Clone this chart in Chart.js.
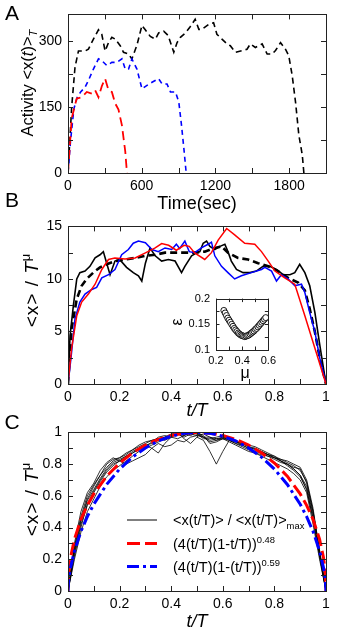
<!DOCTYPE html>
<html><head><meta charset="utf-8">
<script src="https://cdn.jsdelivr.net/npm/chart.js@4.4.1/dist/chart.umd.min.js"></script>
<style>
body{margin:0;background:#fff;}
#wrap{position:relative;width:341px;height:643px;overflow:hidden;font-family:"Liberation Sans",Arial,sans-serif;color:#000;background:#fff;}
canvas{position:absolute;}
.t{position:absolute;white-space:nowrap;line-height:1;}
.rot{transform:translate(-50%,-50%) rotate(-90deg);}
.ctr{transform:translate(-50%,-50%);}
.lg{transform:translateY(-50%);}
sub,sup{font-size:68%;line-height:0;}
.lg sub,.lg sup{font-size:65%;}
svg{position:absolute;left:0;top:0;}
</style></head><body>
<div id="wrap">
<canvas id="cA" width="341" height="200" style="left:0;top:0"></canvas>
<canvas id="cB" width="341" height="200" style="left:0;top:212px"></canvas>
<canvas id="cC" width="341" height="200" style="left:0;top:418px"></canvas>
<canvas id="cI" width="110" height="98" style="left:170px;top:286px"></canvas>

<div class="t ctr" style="left:12px;top:12px;font-size:21px">A</div>
<div class="t ctr" style="left:12px;top:199px;font-size:21px">B</div>
<div class="t ctr" style="left:12px;top:421px;font-size:21px">C</div>

<div class="t rot" style="left:27px;top:83px;font-size:16.5px">Activity &lt;x(<i>t</i>)&gt;<sub><i>T</i></sub></div>
<div class="t ctr" style="left:197px;top:203px;font-size:18px">Time(sec)</div>

<div class="t rot" style="left:31px;top:290px;font-size:19px;letter-spacing:1px">&lt;x&gt; / <i>T</i><sup>μ</sup></div>
<div class="t ctr" style="left:197px;top:410px;font-size:18px"><i>t/T</i></div>
<div class="t rot" style="left:177px;top:322px;font-size:16px">ε</div>
<div class="t ctr" style="left:245px;top:373px;font-size:16px">μ</div>

<div class="t rot" style="left:31px;top:499px;font-size:19px;letter-spacing:1px">&lt;x&gt; / <i>T</i><sup>μ</sup></div>
<div class="t ctr" style="left:197px;top:621px;font-size:18px"><i>t/T</i></div>

<svg width="341" height="643">
<line x1="127" y1="520" x2="157" y2="520" stroke="#000" stroke-width="1"/>
<line x1="127" y1="543.5" x2="157" y2="543.5" stroke="#ff0000" stroke-width="3" stroke-dasharray="13,5"/>
<line x1="127" y1="566.5" x2="157" y2="566.5" stroke="#0000ff" stroke-width="3" stroke-dasharray="12,4,3,4"/>
</svg>
<div class="t lg" style="left:173px;top:520px;font-size:14.5px">&lt;x(t/T)&gt; / &lt;x(t/T)&gt;<sub>max</sub></div>
<div class="t lg" style="left:173px;top:544px;font-size:14.5px">(4(t/T)(1-t/T))<sup>0.48</sup></div>
<div class="t lg" style="left:173px;top:567px;font-size:14.5px">(4(t/T)(1-(t/T))<sup>0.59</sup></div>
</div>
<script>
// ---------- Panel A data ----------
const tBlack = [0,30,57,85,139,166,207,248,275,302,330,357,384,425,452,493,520,561,602,629,670,711,738,779,815,861,888,915,956,990,1035,1065,1090,1144,1185,1212,1253,1294,1321,1362,1417,1457,1484,1525,1580,1621,1662,1689,1730,1770,1797,1825,1852,1879,1907,1920];
const aBlack = [0,150,240,277,277,281,304,325,315,277,296,308,304,289,274,270,259,290,335,325,310,304,318,322,312,274,296,308,318,330,349,326,326,337,341,315,304,293,289,274,278,281,293,285,293,270,270,278,296,281,266,221,161,86,41,0];
const tBlue = [0,20,48,75,103,139,166,207,248,275,316,357,398,439,466,493,520,561,602,643,684,738,766,806,834,875,902,924,943,962];
const aBlue = [0,71,146,172,184,195,210,236,259,255,244,251,251,259,236,236,259,236,191,199,206,214,202,202,184,184,161,108,56,0];
const tRed = [0,30,57,71,112,153,194,221,248,275,302,330,357,384,411,439,466,480];
const aRed = [0,124,154,169,172,184,180,188,172,197,214,188,184,158,144,108,49,0];

// ---------- Panel B data ----------
const uRedB = [0,0.014,0.034,0.053,0.079,0.105,0.131,0.157,0.182,0.221,0.26,0.3,0.338,0.363,0.39,0.42,0.45,0.47,0.491,0.53,0.556,0.582,0.615,0.646,0.685,0.724,0.75,0.776,0.802,0.84,0.879,0.918,0.957,1];
const vRedB = [0,3.4,6.5,7.8,8.56,9.5,10.9,11.85,12.0,11.9,12.0,12.48,12.95,13.36,13.2,12.73,13.2,13.1,12.48,11.85,12.5,13.7,14.8,14.2,13.4,13.3,12.6,11.7,10.75,10.1,9.5,6.5,3.4,0];
const uBlueB = [0,0.0116,0.027,0.046,0.066,0.092,0.111,0.131,0.157,0.182,0.208,0.234,0.253,0.273,0.3,0.325,0.35,0.376,0.402,0.42,0.433,0.453,0.47,0.491,0.517,0.543,0.556,0.569,0.595,0.62,0.646,0.672,0.711,0.75,0.763,0.789,0.808,0.827,0.853,0.879,0.905,0.918,0.937,0.957,0.976,1];
const vBlueB = [0,2.45,6.2,7.8,8.56,9.0,9.2,10.1,10.4,10.9,12.3,12.8,13.4,13.6,13.45,12.8,12.6,12.95,12.8,13.3,12.9,13.6,12.6,12.5,12.95,13.3,13.5,12.2,11.2,10.6,10.0,10.3,10.6,10.9,11.1,10.75,9.8,10.4,10.0,9.35,9.5,8.7,6.8,4.95,2.45,0];
const uBlackB = [0,0.008,0.021,0.034,0.046,0.066,0.085,0.105,0.124,0.137,0.15,0.163,0.182,0.2,0.227,0.253,0.273,0.286,0.3,0.318,0.338,0.363,0.389,0.415,0.44,0.453,0.479,0.5,0.511,0.524,0.537,0.55,0.569,0.589,0.608,0.62,0.633,0.653,0.679,0.705,0.73,0.756,0.782,0.808,0.834,0.86,0.879,0.898,0.918,0.937,0.957,0.976,1];
const vBlackB = [0,4.6,7.5,10.0,10.6,10.75,11.2,12.0,12.3,12.6,11.5,10.4,11.7,11.85,11.1,10.6,10.3,9.8,11.5,12.95,12.2,11.7,11.85,11.7,10.6,11.2,12.2,12.5,12.6,13.4,13.6,13.1,12.8,13.1,13.3,12.6,11.7,10.9,10.6,10.6,10.75,11.2,11.2,10.9,10.4,10.4,10.6,11.4,10.6,9.35,6.8,3.7,0];
const uDashB = [0,0.014,0.034,0.053,0.072,0.098,0.124,0.15,0.182,0.221,0.26,0.3,0.338,0.376,0.415,0.453,0.49,0.53,0.569,0.595,0.62,0.659,0.698,0.737,0.776,0.814,0.853,0.892,0.918,0.937,0.957,0.976,1];
const vDashB = [0,5.3,8.1,9.35,10.0,10.6,11.1,11.4,11.7,11.85,12.0,12.2,12.3,12.5,12.5,12.5,12.5,12.6,12.95,13.1,12.5,12.0,11.85,11.5,11.2,10.75,10.1,9.65,8.9,7.15,4.95,2.45,0];

// ---------- Inset data ----------
const muVals = [0.26,0.27,0.28,0.29,0.30,0.31,0.32,0.33,0.34,0.35,0.36,0.37,0.38,0.39,0.40,0.41,0.42,0.43,0.44,0.45,0.46,0.47,0.48,0.49,0.50,0.51,0.52,0.53,0.54,0.55,0.56,0.57,0.58];
const epsVals = [0.177,0.172,0.167,0.162,0.158,0.154,0.150,0.146,0.142,0.139,0.136,0.133,0.131,0.129,0.128,0.127,0.126,0.127,0.128,0.129,0.131,0.133,0.135,0.137,0.140,0.142,0.145,0.148,0.151,0.154,0.157,0.160,0.163];

// ---------- Panel C data ----------
const uC = [0,0.025,0.05,0.075,0.1,0.125,0.15,0.175,0.2,0.225,0.25,0.275,0.3,0.325,0.35,0.375,0.4,0.425,0.45,0.475,0.5,0.525,0.55,0.575,0.6,0.625,0.65,0.675,0.7,0.725,0.75,0.775,0.8,0.825,0.85,0.875,0.9,0.925,0.95,0.975,1];
const c1 = [0,.22,.40,.55,.63,.70,.76,.80,.82,.84,.87,.90,.92,.90,.87,.93,.97,1.0,.96,.93,.97,.95,.88,.80,.88,.95,.93,.92,.90,.88,.87,.85,.84,.82,.80,.77,.73,.64,.45,.22,0];
const c2 = [0,.28,.47,.60,.67,.73,.78,.82,.84,.87,.89,.91,.93,.95,.96,.97,.98,.99,1.0,.99,.98,.97,.97,.96,.96,.95,.94,.93,.91,.90,.88,.86,.84,.82,.80,.77,.73,.66,.48,.24,0];
const c3 = [0,.25,.44,.57,.64,.71,.77,.81,.83,.85,.88,.90,.92,.93,.95,.97,.99,1.0,.99,.98,1.0,.97,.94,.95,.97,.96,.95,.93,.91,.89,.88,.86,.85,.83,.81,.79,.76,.69,.50,.26,0];
const c4 = [0,.20,.37,.50,.58,.66,.72,.76,.79,.82,.85,.88,.90,.92,.94,.96,.98,.99,.98,1.0,.99,.97,.95,.96,.97,.95,.93,.91,.89,.87,.85,.83,.81,.79,.77,.74,.70,.62,.42,.20,0];
const c5 = [0,.27,.45,.58,.66,.73,.80,.83,.84,.86,.89,.92,.94,.95,.96,.95,.97,.99,.97,.99,1.0,.98,.93,.94,.96,.97,.94,.92,.90,.90,.87,.86,.84,.83,.82,.80,.78,.70,.52,.25,0];
const c6 = [0,.30,.50,.62,.68,.76,.81,.84,.82,.80,.82,.84,.86,.90,.93,.91,.92,.95,.94,.97,.98,.99,.97,.95,.96,.94,.92,.90,.88,.87,.86,.85,.83,.81,.80,.78,.77,.68,.50,.25,0];
const c7 = [0,.24,.42,.54,.62,.69,.75,.79,.82,.85,.87,.89,.91,.94,.97,.98,.97,.96,.98,1.0,.99,.96,.96,.97,.98,.96,.94,.93,.92,.91,.89,.87,.85,.82,.79,.76,.72,.64,.46,.22,0];
const uFit = [0,0.002,0.005,0.01,0.025,0.05,0.075,0.1,0.15,0.2,0.25,0.3,0.35,0.4,0.45,0.5,0.55,0.6,0.65,0.7,0.75,0.8,0.85,0.9,0.925,0.95,0.975,0.99,0.995,0.998,1];
const fit048 = [0,0.098,0.153,0.212,0.327,0.451,0.540,0.612,0.724,0.807,0.871,0.920,0.956,0.981,0.995,1,0.995,0.981,0.956,0.920,0.871,0.807,0.724,0.612,0.540,0.451,0.327,0.212,0.153,0.098,0];
const fit059 = [0,0.058,0.099,0.149,0.253,0.375,0.469,0.547,0.672,0.769,0.844,0.902,0.946,0.976,0.994,1,0.994,0.976,0.946,0.902,0.844,0.769,0.672,0.547,0.469,0.375,0.253,0.149,0.099,0.058,0];

// ---------- helpers ----------
const FONT = '"Liberation Sans", Arial, sans-serif';
const zip = (xs, ys) => xs.map((x, i) => ({x: x, y: ys[i]}));
const fmt = v => String(Math.round(v * 1000) / 1000);

function axis(min, max, step, every, size, fsize, pad, isX) {
  return {
    type: 'linear', min: min, max: max,
    ticks: {
      stepSize: step, autoSkip: false, maxRotation: 0, minRotation: 0, padding: pad,
      color: '#000', font: {family: FONT, size: fsize},
      callback: v => { const k = Math.round(v / step), m = Math.round(every / step); return (k % m === 0) ? fmt(v) : ''; }
    },
    grid: {display: false, drawTicks: false},
    border: {display: false},
    afterFit: s => { if (isX) s.height = size; else s.width = size; }
  };
}

const framePlugin = {
  id: 'frame',
  afterDraw(chart, args, opts) {
    const ctx = chart.ctx, a = chart.chartArea, xs = chart.scales.x, ys = chart.scales.y;
    const L = opts.len || 5;
    ctx.save();
    ctx.strokeStyle = '#222';
    ctx.lineWidth = 1;
    ctx.beginPath();
    xs.ticks.forEach(t => {
      const p = Math.round(xs.getPixelForValue(t.value)) + 0.5;
      ctx.moveTo(p, a.bottom); ctx.lineTo(p, a.bottom - L);
      ctx.moveTo(p, a.top); ctx.lineTo(p, a.top + L);
    });
    ys.ticks.forEach(t => {
      const p = Math.round(ys.getPixelForValue(t.value)) + 0.5;
      ctx.moveTo(a.left, p); ctx.lineTo(a.left + L, p);
      ctx.moveTo(a.right, p); ctx.lineTo(a.right - L, p);
    });
    ctx.stroke();
    ctx.strokeRect(Math.round(a.left) + 0.5, Math.round(a.top) + 0.5, Math.round(a.width), Math.round(a.height));
    ctx.restore();
  }
};

function lineDs(data, color, width, dash) {
  return {data: data, borderColor: color, borderWidth: width, borderDash: dash || [], pointRadius: 0, tension: 0, fill: false};
}

function baseOptions(xAx, yAx, padding, len) {
  return {
    responsive: false, animation: false, devicePixelRatio: 1,
    layout: {padding: padding},
    plugins: {legend: {display: false}, tooltip: {enabled: false}, frame: {len: len}},
    scales: {x: xAx, y: yAx}
  };
}

// ---------- Panel A ----------
new Chart(document.getElementById('cA'), {
  type: 'line',
  data: {datasets: [
    lineDs(zip(tRed, aRed), '#ff0000', 1.8, [9, 5]),
    lineDs(zip(tBlue, aBlue), '#0000ff', 1.6, [5, 4]),
    lineDs(zip(tBlack, aBlack), '#000000', 1.6, [6, 4])
  ]},
  options: baseOptions(axis(0, 2100, 300, 600, 27, 14, 5, true), axis(0, 360, 75, 150, 68, 14, 6, false),
    {top: 13, right: 15, left: 0, bottom: 0}, 5),
  plugins: [framePlugin]
});

// ---------- Panel B ----------
new Chart(document.getElementById('cB'), {
  type: 'line',
  data: {datasets: [
    lineDs(zip(uRedB, vRedB), '#ff0000', 1.5),
    lineDs(zip(uBlueB, vBlueB), '#0000ff', 1.5),
    lineDs(zip(uBlackB, vBlackB), '#000000', 1.6),
    lineDs(zip(uDashB, vDashB), '#000000', 2.6, [7, 4])
  ]},
  options: baseOptions(axis(0, 1, 0.1, 0.2, 28, 14, 5, true), axis(0, 15, 2.5, 5, 68, 14, 6, false),
    {top: 13, right: 15, left: 0, bottom: 0}, 5),
  plugins: [framePlugin]
});

// ---------- Inset ----------
new Chart(document.getElementById('cI'), {
  type: 'scatter',
  data: {datasets: [{
    data: zip(muVals, epsVals), showLine: false, pointRadius: 3, pointBorderWidth: 0.9,
    pointBorderColor: '#000', pointBackgroundColor: '#fff', pointStyle: 'circle'
  }]},
  options: baseOptions(axis(0.2, 0.6, 0.1, 0.2, 34, 11, 4, true), axis(0.1, 0.2, 0.025, 0.05, 46, 11, 6, false),
    {top: 6, right: 5, left: 0, bottom: 0}, 3.5),
  plugins: [framePlugin]
});

// ---------- Panel C ----------
const curvesC = [c1, c2, c3, c4, c5, c6, c7];
new Chart(document.getElementById('cC'), {
  type: 'line',
  data: {datasets: [
    lineDs(zip(uFit, fit059), '#0000ff', 3, [12, 4, 3, 4]),
    lineDs(zip(uFit, fit048), '#ff0000', 3, [13, 5])
  ].concat(curvesC.map(c => lineDs(zip(uC, c), '#000000', 0.8)))},
  options: baseOptions(axis(0, 1, 0.1, 0.2, 27, 14, 5, true), axis(0, 1, 0.1, 0.2, 68, 14, 6, false),
    {top: 13, right: 15, left: 0, bottom: 0}, 5),
  plugins: [framePlugin]
});
</script>
</body></html>
